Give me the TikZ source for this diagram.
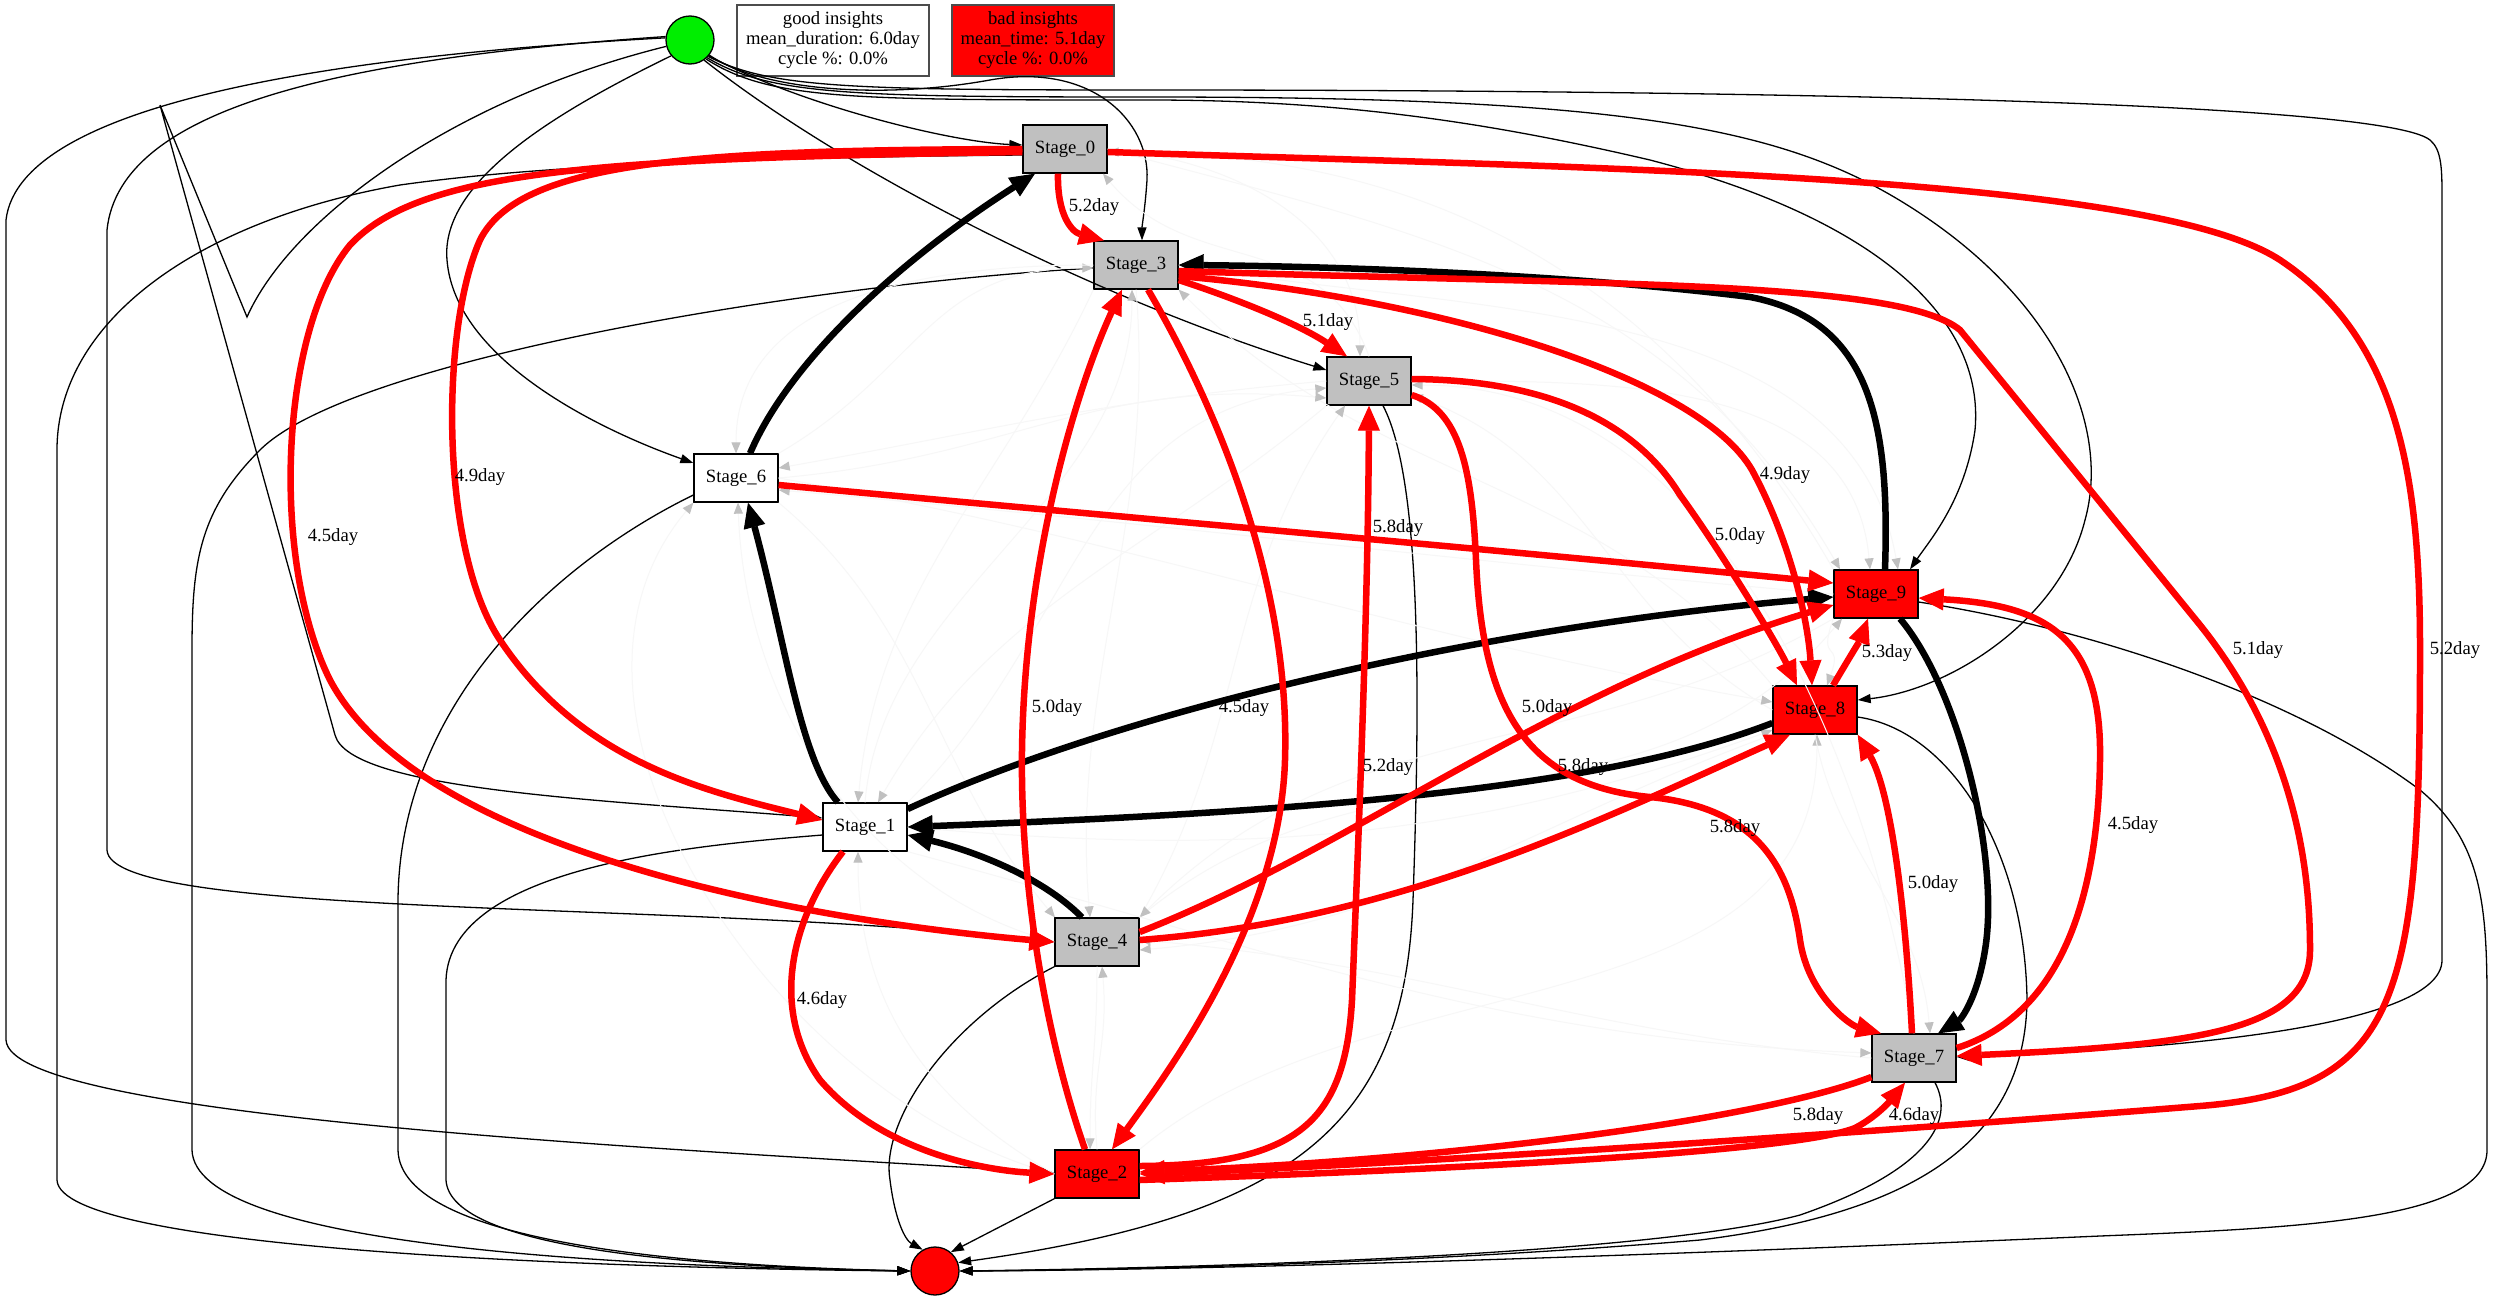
\documentclass[tikz,border=0pt]{standalone}
\usepackage{fontspec}
\setmainfont{Liberation Serif}
\usetikzlibrary{arrows.meta, positioning}
\definecolor{gvgray}{RGB}{192,192,192}
\definecolor{gvred}{RGB}{255,0,0}
\definecolor{gvgreen}{RGB}{0,238,0}
\newcommand{\gvfont}{\fontsize{18.67}{20}\selectfont}

\begin{document}
\begin{tikzpicture}[
    x=1pt, y=-1pt,
    every node/.style={font=\gvfont},
    stagebox/.style={rectangle, draw, line width=1.3pt, minimum width=84pt, minimum height=48pt, inner sep=0pt},
    terminal/.style={circle, draw, line width=1.3pt, minimum size=48pt, inner sep=0pt},
    infobox/.style={rectangle, draw=black!70, line width=1.3pt, minimum height=71pt, inner sep=0pt, align=center},
    daylabel/.style={inner sep=0pt},
    flowedge/.style={draw, line width=1.3pt, -{Triangle[length=13pt,width=9pt]}},
    faint/.style={draw=black!3, line width=1pt, -{Triangle[length=11pt,width=9pt,color=gvgray]}},
    hotedge/.style={draw=gvred, line width=6.5pt, -{Triangle[length=25pt,width=22pt,line width=1pt]}},
    mainedge/.style={draw=black, line width=6.5pt, -{Triangle[length=25pt,width=22pt,line width=1pt]}}
  ]
  \useasboundingbox (0,0) rectangle (2499,1301);
  \fill[white] (0,0) rectangle (2499,1301);

  \node[terminal, fill=gvgreen] (src) at (690,40) {};
  \node[infobox, fill=white, minimum width=192pt] (goodbox) at (833,40.5) {good insights\\mean\_duration: 6.0day\\cycle \%: 0.0\%};
  \node[infobox, fill=gvred, minimum width=162pt] (badbox) at (1033,40.5) {bad insights\\mean\_time: 5.1day\\cycle \%: 0.0\%};
  \node[stagebox, fill=gvgray] (s0) at (1065,149) {Stage\_0};
  \node[stagebox, fill=gvgray] (s3) at (1136,265) {Stage\_3};
  \node[stagebox, fill=gvgray] (s5) at (1369,381) {Stage\_5};
  \node[stagebox, fill=white] (s6) at (736,478) {Stage\_6};
  \node[stagebox, fill=gvred] (s9) at (1876,594) {Stage\_9};
  \node[stagebox, fill=gvred] (s8) at (1815,710) {Stage\_8};
  \node[stagebox, fill=white] (s1) at (865,827) {Stage\_1};
  \node[stagebox, fill=gvgray] (s4) at (1097,942) {Stage\_4};
  \node[stagebox, fill=gvgray] (s7) at (1914,1058) {Stage\_7};
  \node[stagebox, fill=gvred] (s2) at (1097,1174) {Stage\_2};
  \node[terminal, fill=gvred] (snk) at (935,1271) {};

  % start and end connections
  \draw[flowedge] (src.-40) .. controls (800,105) and (950,142) .. ([yshift=4pt]s0.west);
  \draw[flowedge] (src.-38) .. controls (760,90) and (880,100) .. (990,80) .. controls (1090,62) and (1150,120) .. (1147,180) .. controls (1145,210) and (1142,225) .. ([xshift=6pt]s3.north);
  \draw[flowedge] (src.-55) .. controls (850,175) and (1100,300) .. ([yshift=11pt]s5.west);
  \draw[flowedge] (src.220) .. controls (560,110) and (440,180) .. (447,260) .. controls (455,360) and (600,430) .. ([yshift=15pt]s6.west);
  \draw[flowedge] (src.195) .. controls (450,100) and (290,220) .. (247,317) -- (160,105) -- (335,735) .. controls (350,790) and (600,800) .. ([yshift=9pt]s1.west);
  \draw[flowedge] (src.175) .. controls (350,55) and (20,100) .. (6,220) -- (6,1040) .. controls (10,1120) and (700,1150) .. ([yshift=1pt]s2.west);
  \draw[flowedge] (src.172) .. controls (350,58) and (120,105) .. (107,230) -- (107,850) .. controls (110,920) and (700,900) .. (s4.west);
  \draw[flowedge] (src.-42) .. controls (770,88) and (850,90) .. (1150,90) .. controls (1700,90) and (2380,100) .. (2430,140) .. controls (2442,150) and (2442,170) .. (2442,200) -- (2442,960) .. controls (2442,1030) and (2150,1050) .. ([yshift=1pt]s7.east);
  \draw[flowedge] (src.-46) .. controls (770,95) and (850,97) .. (1150,97) .. controls (1650,97) and (1800,130) .. (1930,220) .. controls (2060,310) and (2110,430) .. (2085,520) .. controls (2060,620) and (1950,690) .. ([yshift=10pt]s8.east);
  \draw[flowedge] (src.-50) .. controls (770,100) and (850,100) .. (1150,100) .. controls (1350,100) and (1500,125) .. (1650,160) .. controls (1880,220) and (1985,320) .. (1975,430) .. controls (1965,500) and (1930,540) .. ([xshift=34pt]s9.north);
  \draw[flowedge] ([yshift=-6pt]s0.west) .. controls (700,158) and (520,168) .. (400,185) .. controls (200,220) and (57,320) .. (57,450) -- (57,1180) .. controls (60,1250) and (600,1268) .. (snk.west);
  \draw[flowedge] ([yshift=-3pt]s3.west) .. controls (800,285) and (350,360) .. (260,450) .. controls (200,510) and (192,560) .. (192,650) -- (192,1150) .. controls (195,1245) and (600,1266) .. (snk.west);
  \draw[flowedge] ([yshift=-17pt]s6.west) .. controls (560,560) and (400,700) .. (398,900) -- (398,1150) .. controls (400,1245) and (700,1266) .. (snk.west);
  \draw[flowedge] ([yshift=-8pt]s1.west) .. controls (700,845) and (450,865) .. (446,980) -- (446,1180) .. controls (450,1250) and (700,1267) .. (snk.west);
  \draw[flowedge] (s4.south west) .. controls (950,1020) and (880,1120) .. (890,1180) .. controls (895,1220) and (905,1240) .. (snk.120);
  \draw[flowedge] (s2.south west) -- (snk.50);
  \draw[flowedge] ([xshift=14pt]s5.south) .. controls (1422,480) and (1420,700) .. (1413,900) .. controls (1405,1120) and (1300,1215) .. (snk.20);
  \draw[flowedge] ([xshift=21pt]s7.south) .. controls (1955,1120) and (1930,1170) .. (1800,1215) .. controls (1650,1255) and (1200,1268) .. (snk.east);
  \draw[flowedge] ([yshift=-7pt]s8.east) .. controls (1950,730) and (2025,850) .. (2027,1000) .. controls (2025,1150) and (1900,1215) .. (1700,1240) .. controls (1400,1265) and (1100,1270) .. (snk.east);
  \draw[flowedge] ([yshift=-8pt]s9.east) .. controls (2100,630) and (2300,700) .. (2420,790) .. controls (2480,840) and (2487,900) .. (2487,1000) -- (2487,1150) .. controls (2487,1220) and (2300,1228) .. (2100,1236) .. controls (1600,1258) and (1200,1270) .. (snk.east);

  % rare transitions
  \draw[faint] (s9.north west) .. controls +(-165,-286) and +(330,0) .. ([yshift=-3pt]s0.east);
  \draw[faint] (s5.north) .. controls +(-48,-132) and +(90,107) .. ([xshift=38pt]s0.south);
  \draw[faint] (s6.north east) .. controls +(143,-83) and +(-165,0) .. ([yshift=-3pt]s3.west);
  \draw[faint] (s1.north) .. controls +(18,-209) and +(0,210) .. ([xshift=-4pt]s3.south);
  \draw[faint] (s8.north west) .. controls +(-180,-214) and +(198,198) .. (s3.south east);
  \draw[faint] (s0.east) .. controls +(130,11) and +(0,-130) .. ([xshift=-9pt]s5.north);
  \draw[faint] (s1.north east) .. controls +(173,-173) and +(-244,21) .. ([yshift=-7pt]s5.west);
  \draw[faint] (s6.east) .. controls +(239,-21) and +(-239,-21) .. ([yshift=-17pt]s5.west);
  \draw[faint] (s4.north east) .. controls +(108,-186) and +(-123,176) .. ([xshift=-24pt]s5.south);
  \draw[faint] (s7.north) .. controls +(-52,-295) and +(300,0) .. ([yshift=-4pt]s5.east);
  \draw[faint] (s8.west) .. controls +(-165,-95) and +(179,65) .. ([yshift=-14pt]s5.east);
  \draw[faint] (s5.west) .. controls +(-229,20) and +(226,-40) .. ([yshift=10pt]s6.east);
  \draw[faint] (s9.west) .. controls +(-398,-35) and +(398,35) .. ([yshift=-12pt]s6.east);
  \draw[faint] (s2.west) .. controls +(-270,-72) and +(-180,214) .. (s6.south west);
  \draw[faint] (s4.west) .. controls +(-193,-52) and +(7,200) .. ([xshift=2pt]s6.south);
  \draw[faint] (s3.west) .. controls +(-160,0) and +(0,-160) .. (s6.north);
  \draw[faint] (s0.east) .. controls +(319,85) and +(-165,-286) .. ([xshift=-36pt]s9.north);
  \draw[faint] (s5.east) .. controls +(195,0) and +(-17,-194) .. ([xshift=-6pt]s9.north);
  \draw[faint] (s3.east) .. controls +(276,49) and +(-49,-276) .. ([xshift=22pt]s9.north);
  \draw[faint] (s4.north east) .. controls +(230,-193) and +(-193,230) .. ([xshift=-34pt]s9.south);
  \draw[faint] (s6.east) .. controls +(379,67) and +(-379,-67) .. ([yshift=8pt]s8.west);
  \draw[faint] (s1.east) .. controls +(329,29) and +(-310,113) .. ([yshift=-20pt]s8.west);
  \draw[faint] (s2.north east) .. controls +(230,-193) and +(0,300) .. ([xshift=2pt]s8.south);
  \draw[faint] (s9.south west) .. controls +(-17,47) and +(17,-47) .. ([xshift=12pt]s8.north);
  \draw[faint] (s3.south west) .. controls +(-91,195) and +(19,-214) .. ([xshift=-7pt]s1.north);
  \draw[faint] (s5.south west) .. controls +(-176,148) and +(115,-199) .. ([xshift=13pt]s1.north);
  \draw[faint] (s2.west) .. controls +(-130,-75) and +(0,150) .. ([xshift=-7pt]s1.south);
  \draw[faint] (s6.south east) .. controls +(149,125) and +(-125,-149) .. ([xshift=-42pt]s4.north);
  \draw[faint] (s3.south) .. controls +(20,234) and +(-20,-234) .. ([xshift=-7pt]s4.north);
  \draw[faint] (s9.south west) .. controls +(-260,150) and +(212,-212) .. (s4.north east);
  \draw[faint] (s7.west) .. controls +(-289,-25) and +(289,25) .. ([yshift=2pt]s4.east);
  \draw[faint] (s8.south west) .. controls +(-249,91) and +(264,-23) .. ([yshift=-8pt]s4.east);
  \draw[faint] (s2.north) .. controls +(-7,-80) and +(7,80) .. ([xshift=5pt]s4.south);
  \draw[faint] (s8.south) .. controls +(21,118) and +(-10,-120) .. ([xshift=16pt]s7.north);
  \draw[faint] (s1.south east) .. controls +(362,97) and +(-375,-13) .. ([yshift=5pt]s7.west);
  \draw[faint] (s4.south) .. controls +(0,80) and +(0,-80) .. ([xshift=-7pt]s2.north);

  % frequent transitions
  \draw[mainedge] ([xshift=14pt]s6.north) .. controls (790,360) and (900,260) .. ([xshift=-30pt]s0.south);
  \draw[mainedge] ([xshift=-27pt]s1.north) .. controls (800,760) and (785,640) .. ([xshift=12pt]s6.south);
  \draw[mainedge] ([xshift=9pt]s9.north) .. controls (1890,420) and (1870,320) .. (1750,297) .. controls (1550,272) and (1300,266) .. (s3.east);
  \draw[mainedge] ([yshift=18pt]s1.east) .. controls (1100,720) and (1450,630) .. ([yshift=-3pt]s9.west);
  \draw[mainedge] ([yshift=-13pt]s8.west) .. controls (1600,790) and (1300,812) .. (s1.east);
  \draw[mainedge] ([xshift=-15pt]s4.north) .. controls (1040,875) and (970,850) .. ([yshift=-8pt]s1.east);
  \draw[mainedge] ([xshift=24pt]s9.south) .. controls (1960,690) and (2000,860) .. (1985,950) .. controls (1977,1000) and (1960,1020) .. ([xshift=24pt]s7.north);

  % slow transitions
  \draw[hotedge] ([xshift=-7pt]s0.south) .. controls (1057,215) and (1072,232) .. ([xshift=-32pt]s3.north);
  \draw[hotedge] ([yshift=-15pt]s3.east) .. controls (1240,300) and (1300,325) .. ([xshift=-22pt]s5.north);
  \draw[hotedge] (s0.west) .. controls (700,150) and (520,160) .. (480,240) .. controls (440,330) and (440,550) .. (500,640) .. controls (580,760) and (700,790) .. ([yshift=7pt]s1.west);
  \draw[hotedge] ([yshift=-3pt]s0.west) .. controls (600,158) and (420,170) .. (350,245) .. controls (280,330) and (270,560) .. (330,680) .. controls (420,850) and (800,920) .. (s4.west);
  \draw[hotedge] ([yshift=-3pt]s0.east) .. controls (1600,168) and (2150,175) .. (2280,260) .. controls (2400,340) and (2420,480) .. (2420,650) .. controls (2420,1000) and (2400,1090) .. (2200,1106) .. controls (1900,1130) and (1400,1165) .. (s2.east);
  \draw[hotedge] ([yshift=-6pt]s3.east) .. controls (1600,285) and (1900,280) .. (1960,330) -- (2200,625) .. controls (2300,750) and (2310,880) .. (2310,950) .. controls (2310,1030) and (2200,1045) .. ([yshift=2pt]s7.east);
  \draw[hotedge] ([yshift=-7pt]s6.east) .. controls (1100,515) and (1500,550) .. ([yshift=11pt]s9.west);
  \draw[hotedge] ([yshift=2pt]s5.east) .. controls (1560,380) and (1640,430) .. (1680,495) .. controls (1720,550) and (1775,640) .. ([xshift=-18pt]s8.north);
  \draw[hotedge] ([yshift=-11pt]s3.east) .. controls (1450,300) and (1700,380) .. (1752,470) .. controls (1790,540) and (1808,620) .. ([xshift=-3pt]s8.north);
  \draw[hotedge] ([xshift=18pt]s8.north) .. controls (1845,665) and (1860,640) .. ([xshift=-8pt]s9.south);
  \draw[hotedge] ([yshift=-14pt]s5.east) .. controls (1460,410) and (1472,470) .. (1476,560) .. controls (1482,700) and (1520,785) .. (1650,797) .. controls (1760,808) and (1790,870) .. (1800,940) .. controls (1808,995) and (1850,1025) .. ([xshift=-33pt]s7.north);
  \draw[hotedge] ([yshift=10pt]s7.east) .. controls (2060,1015) and (2098,900) .. (2100,760) .. controls (2102,640) and (2050,605) .. ([yshift=-4pt]s9.east);
  \draw[hotedge] ([xshift=-2pt]s7.north) .. controls (1905,900) and (1890,790) .. (s8.south east);
  \draw[hotedge] ([xshift=-22pt]s1.south) .. controls (790,920) and (770,1010) .. (820,1080) .. controls (880,1150) and (980,1170) .. (s2.west);
  \draw[hotedge] ([xshift=-12pt]s2.north) .. controls (1050,1050) and (1020,900) .. (1022,750) .. controls (1025,550) and (1080,380) .. ([xshift=-14pt]s3.south);
  \draw[hotedge] ([xshift=12pt]s3.south) .. controls (1230,430) and (1290,600) .. (1285,760) .. controls (1280,920) and (1170,1070) .. ([xshift=15pt]s2.north);
  \draw[hotedge] ([yshift=8pt]s2.east) .. controls (1300,1165) and (1345,1120) .. (1352,1000) .. controls (1360,800) and (1368,600) .. (s5.south);
  \draw[hotedge] ([yshift=10pt]s4.east) .. controls (1350,850) and (1550,690) .. ([yshift=-11pt]s9.west);
  \draw[hotedge] ([yshift=2pt]s4.east) .. controls (1400,920) and (1600,820) .. ([xshift=-25pt]s8.south);
  \draw[hotedge] ([yshift=-19pt]s7.west) .. controls (1760,1120) and (1450,1160) .. ([yshift=2pt]s2.east);
  \draw[hotedge] ([yshift=-6pt]s2.east) .. controls (1500,1168) and (1800,1150) .. (1855,1128) .. controls (1880,1115) and (1895,1095) .. ([xshift=-9pt]s7.south);

  \node[daylabel] (l03) at (1094,207) {5.2day};
  \node[daylabel] (l35) at (1328,322) {5.1day};
  \node[daylabel] (l01) at (480,477) {4.9day};
  \node[daylabel] (l04) at (333,537) {4.5day};
  \node[daylabel] (l02) at (2455,650) {5.2day};
  \node[daylabel] (l37) at (2258,650) {5.1day};
  \node[daylabel] (l69) at (1398,528) {5.8day};
  \node[daylabel] (l58) at (1740,536) {5.0day};
  \node[daylabel] (l38) at (1785,475) {4.9day};
  \node[daylabel] (l89) at (1887,653) {5.3day};
  \node[daylabel] (l57) at (1547,708) {5.0day};
  \node[daylabel] (l79) at (2133,825) {4.5day};
  \node[daylabel] (l78) at (1933,884) {5.0day};
  \node[daylabel] (l12) at (822,1000) {4.6day};
  \node[daylabel] (l23) at (1057,708) {5.0day};
  \node[daylabel] (l32) at (1244,708) {4.5day};
  \node[daylabel] (l25) at (1388,767) {5.2day};
  \node[daylabel] (l49) at (1583,767) {5.8day};
  \node[daylabel] (l48) at (1735,828) {5.8day};
  \node[daylabel] (l72) at (1818,1116) {5.8day};
  \node[daylabel] (l27) at (1914,1116) {4.6day};
\end{tikzpicture}
\end{document}
